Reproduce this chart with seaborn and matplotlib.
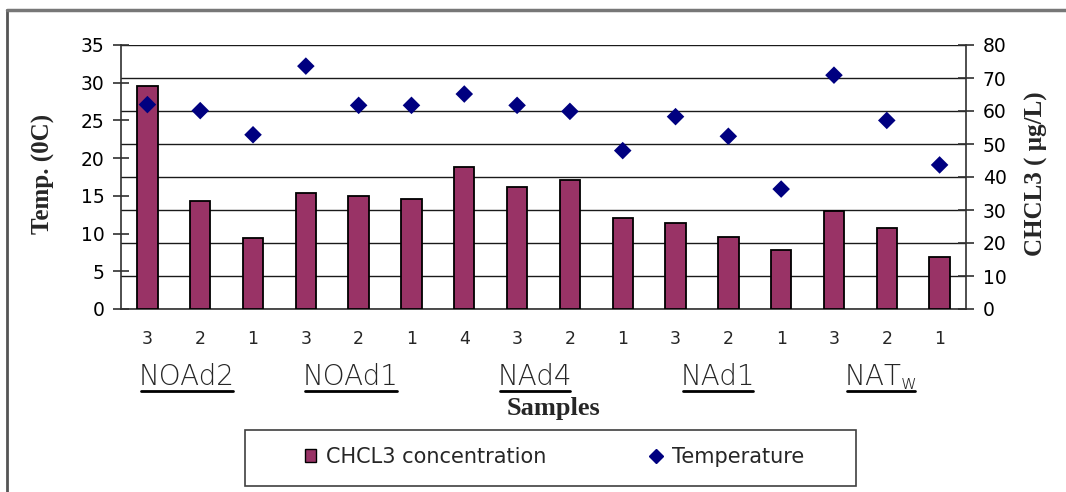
import numpy as np
import pandas as pd
import matplotlib
matplotlib.use("Agg")
import matplotlib.pyplot as plt
from matplotlib.lines import Line2D
from matplotlib.patches import Patch, Rectangle
import seaborn as sns

# ---- data -------------------------------------------------------------
groups = ["NOAd2", "NOAd1", "NAd4", "NAd1", "NATw"]
group_sizes = [3, 3, 4, 3, 3]
sample_numbers = ["3", "2", "1", "3", "2", "1", "4", "3", "2", "1",
                  "3", "2", "1", "3", "2", "1"]
chcl3_ugL = [67.6, 32.8, 21.6, 35.2, 34.2, 33.2, 43.0, 37.1, 39.1,
             27.6, 26.2, 21.7, 17.9, 29.6, 24.6, 15.9]
temperature_c = [27.1, 26.3, 23.1, 32.2, 27.0, 27.0, 28.5, 27.0, 26.2,
                 21.0, 25.5, 22.9, 15.9, 31.0, 25.0, 19.1]

group_of_sample = [g for g, n in zip(groups, group_sizes) for _ in range(n)]
df = pd.DataFrame({
    "sample": [f"{g}-{i}" for i, g in enumerate(group_of_sample)],
    "pos": np.arange(len(sample_numbers)),
    "label": sample_numbers,
    "chcl3": chcl3_ugL,
    "temp": temperature_c,
})

# ---- styling ----------------------------------------------------------
sns.set_style("white")
plt.rcParams["font.family"] = ["DejaVu Sans"]
plt.rcParams["mathtext.fontset"] = "custom"
plt.rcParams["mathtext.rm"] = "DejaVu Sans:light"

BAR = "#993366"
DIAMOND = "#000080"
LINE = "#303030"

W, H = 1066, 492
X0, X1, Y0, Y1 = 121, 966, 309, 45
fig = plt.figure(figsize=(W / 100, H / 100), dpi=100)
ax_c = fig.add_axes([X0 / W, 1 - Y0 / H, (X1 - X0) / W, (Y0 - Y1) / H])

# bars: CHCL3 concentration on the right-hand scale
sns.barplot(data=df, x="sample", y="chcl3", order=df["sample"], color=BAR,
            saturation=1, width=0.385, edgecolor="black", linewidth=1.3,
            ax=ax_c, zorder=3)
ax_c.set_ylim(0, 80)
ax_c.set_xlim(-0.5, len(df) - 0.5)
ax_c.set_yticks(np.arange(0, 81, 10))
ax_c.yaxis.grid(True, color="#1a1a1a", linewidth=1.0)
ax_c.set_axisbelow(True)

# diamonds: temperature on the left-hand scale
ax_t = ax_c.twinx()
sns.scatterplot(data=df, x="pos", y="temp", marker="D", s=80, color=DIAMOND,
                edgecolor="none", ax=ax_t, zorder=4, legend=False)
ax_t.set_ylim(0, 35)
ax_t.set_yticks(np.arange(0, 36, 5))
ax_t.set_xlim(-0.5, len(df) - 0.5)
ax_c.yaxis.tick_right()
ax_t.yaxis.tick_left()

for a in (ax_c, ax_t):
    a.set_xlabel("")
    a.set_ylabel("")
    for s in a.spines.values():
        s.set_visible(False)

ax_c.spines["bottom"].set_visible(True)
ax_c.spines["right"].set_visible(True)
ax_t.spines["left"].set_visible(True)
for s in (ax_c.spines["bottom"], ax_c.spines["right"], ax_t.spines["left"]):
    s.set_color(LINE)
    s.set_linewidth(1.2)

ax_c.tick_params(axis="y", direction="inout", length=12, width=1.2,
                 color=LINE, labelsize=13.5, pad=6, labelcolor="black")
ax_t.tick_params(axis="y", direction="inout", length=12, width=1.2,
                 color=LINE, labelsize=13.5, pad=6, labelcolor="black")

# sample numbers under each bar, tick marks between bars
ax_c.set_xticks(df["pos"], df["label"])
ax_c.tick_params(axis="x", which="major", length=0, labelsize=12.5, pad=15)
ax_c.set_xticks(np.arange(-0.5, len(df), 1.0), minor=True)
ax_c.tick_params(axis="x", which="minor", direction="inout", length=11,
                 width=1.2, color=LINE)
ax_t.tick_params(axis="x", length=0, labelbottom=False)

fig.text(43 / W, 1 - 174 / H, "Temp. (0C)", rotation=90,
         ha="center", va="center", fontsize=18, fontweight="bold",
         family="Liberation Serif")
fig.text(1036 / W, 1 - 174 / H, "CHCL3 ( µg/L)", rotation=90,
         ha="center", va="center", fontsize=18, fontweight="bold",
         family="Liberation Serif")
fig.text(553 / W, 1 - 408 / H, "Samples", ha="center", va="center",
         fontsize=19, fontweight="bold", family="Liberation Serif")

# underlined group names below the sample numbers
group_text = ["NOAd2", "NOAd1", "NAd4", "NAd1", "NAT$_{\\mathregular{w}}$"]
group_px = [187, 351, 535, 718, 881]
labels = []
for gx, gt in zip(group_px, group_text):
    labels.append(fig.text(gx / W, 1 - 377 / H, gt, ha="center",
                           va="center", fontsize=20, family="DejaVu Sans",
                           fontweight="light"))

fig.canvas.draw()
renderer = fig.canvas.get_renderer()
for t in labels:
    bb = t.get_window_extent(renderer)
    y = 1 - 391 / H
    fig.add_artist(Line2D([bb.x0 / W + 0.002, bb.x1 / W - 0.002], [y, y],
                          transform=fig.transFigure, color="black", linewidth=2.0))

# legend box
fig.patches.append(Rectangle(
    (245 / W, 1 - 486 / H), (856 - 245) / W, 56 / H, transform=fig.transFigure,
    facecolor="white", edgecolor="#404040", linewidth=1.2))
handles = [Patch(facecolor=BAR, edgecolor="black", linewidth=1.0, label="CHCL3 concentration"),
           Line2D([], [], marker="D", linestyle="none", color=DIAMOND,
                  markersize=6.8, label="Temperature")]
leg = fig.legend(handles=handles, loc="center", ncol=2,
                 bbox_to_anchor=(554.5 / W, 1 - 457 / H),
                 frameon=False, fontsize=15, handlelength=0.55,
                 handleheight=0.55, handletextpad=0.48, columnspacing=5.0)

# outer chart frame
fig.add_artist(Line2D([7 / W, 7 / W], [0, 1 - 10 / H], transform=fig.transFigure,
                      color="#555555", linewidth=2.0))
fig.add_artist(Line2D([7 / W, 1], [1 - 10 / H, 1 - 10 / H], transform=fig.transFigure,
                      color="#777777", linewidth=2.5))

fig.savefig("out.png", dpi=100)
